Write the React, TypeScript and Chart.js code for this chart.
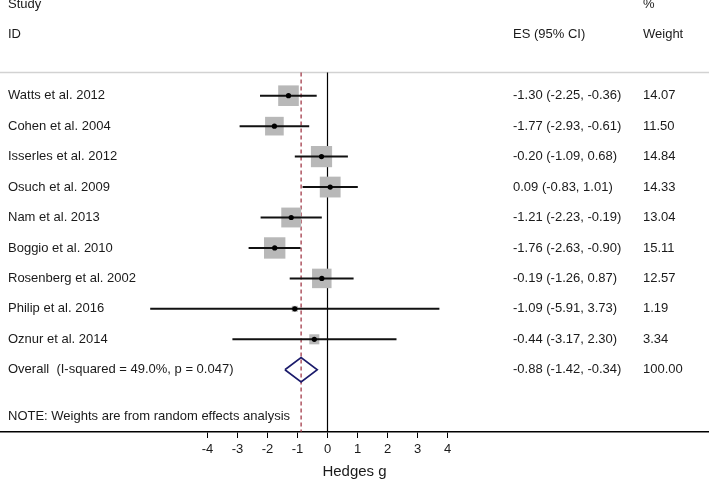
import React, { useEffect, useRef } from "react";
import { Chart, registerables } from "chart.js";

Chart.register(...registerables);

// ---- data ----
const studies = [
  "Watts et al. 2012",
  "Cohen et al. 2004",
  "Isserles et al. 2012",
  "Osuch et al. 2009",
  "Nam et al. 2013",
  "Boggio et al. 2010",
  "Rosenberg et al. 2002",
  "Philip et al. 2016",
  "Oznur et al. 2014",
];
const effectSizes = [-1.3, -1.77, -0.2, 0.09, -1.21, -1.76, -0.19, -1.09, -0.44];
const ciLower = [-2.25, -2.93, -1.09, -0.83, -2.23, -2.63, -1.26, -5.91, -3.17];
const ciUpper = [-0.36, -0.61, 0.68, 1.01, -0.19, -0.9, 0.87, 3.73, 2.3];
const weights = [14.07, 11.5, 14.84, 14.33, 13.04, 15.11, 12.57, 1.19, 3.34];
const overallLabel = "Overall  (I-squared = 49.0%, p = 0.047)";
const overallES = -0.88;
const overallLower = -1.42;
const overallUpper = -0.34;
const overallWeight = 100.0;
const xTicks = [-4, -3, -2, -1, 0, 1, 2, 3, 4];
const noteText = "NOTE: Weights are from random effects analysis";
const xTitle = "Hedges g";

// ---- layout (rows in y-units, x range) ----
const X_MIN = -10.917;
const X_MAX = 12.717;
const Y_MIN = -2.143;
const Y_MAX = 12.044;
const HEADER_LINE_ROW = 0.24;
const NOTE_ROW = 11.52;
const OVERALL_ROW = studies.length + 1;
const DIAMOND_HALF = 0.4;
const FONT = "13px 'Liberation Sans', Arial, Helvetica, sans-serif";
const TEXT_COLOR = "#1a1a1a";

const fmt = (v: number) => v.toFixed(2);
const ciText = (e: number, l: number, u: number) => `${fmt(e)} (${fmt(l)}, ${fmt(u)})`;

export default function App() {
  const canvasRef = useRef<HTMLCanvasElement | null>(null);

  useEffect(() => {
    const canvas = canvasRef.current;
    if (!canvas) return;
    const rows = studies.map((_, i) => i + 1);

    const textPlugin = {
      id: "forestText",
      afterDatasetsDraw(chart: any) {
        const { ctx } = chart;
        const y = chart.scales.y;
        ctx.save();
        ctx.font = FONT;
        ctx.fillStyle = TEXT_COLOR;
        ctx.textBaseline = "middle";
        ctx.textAlign = "left";
        const colLeft = 8;
        const colES = 513;
        const colW = 643;
        ctx.fillText("Study", colLeft, y.getPixelForValue(-2));
        ctx.fillText("ID", colLeft, y.getPixelForValue(-1));
        ctx.fillText("ES (95% CI)", colES, y.getPixelForValue(-1));
        ctx.fillText("%", colW, y.getPixelForValue(-2));
        ctx.fillText("Weight", colW, y.getPixelForValue(-1));
        studies.forEach((s, i) => {
          const py = y.getPixelForValue(rows[i]);
          ctx.fillText(s, colLeft, py);
          ctx.fillText(ciText(effectSizes[i], ciLower[i], ciUpper[i]), colES, py);
          ctx.fillText(fmt(weights[i]), colW, py);
        });
        const oy = y.getPixelForValue(OVERALL_ROW);
        ctx.fillText(overallLabel, colLeft, oy);
        ctx.fillText(ciText(overallES, overallLower, overallUpper), colES, oy);
        ctx.fillText(fmt(overallWeight), colW, oy);
        ctx.fillText(noteText, colLeft, y.getPixelForValue(NOTE_ROW));
        ctx.restore();
      },
    };

    const lineDs = (data: any[], color: string, width: number, order: number, dash: number[] = []) => ({
      type: "scatter" as const,
      data,
      showLine: true,
      borderColor: color,
      borderWidth: width,
      borderDash: dash,
      pointRadius: 0,
      pointHoverRadius: 0,
      fill: false,
      tension: 0,
      order,
      clip: false as any,
    });

    const datasets: any[] = [];
    // header separator
    datasets.push(lineDs([{ x: X_MIN, y: HEADER_LINE_ROW }, { x: X_MAX, y: HEADER_LINE_ROW }], "#d2d2d2", 1.5, 10));
    // null line
    datasets.push(lineDs([{ x: 0, y: HEADER_LINE_ROW }, { x: 0, y: Y_MAX }], "#000000", 1.2, 9));
    // overall dashed line
    datasets.push(lineDs([{ x: overallES, y: HEADER_LINE_ROW }, { x: overallES, y: Y_MAX }], "#9b2a3a", 1.2, 8, [4, 3]));
    // squares
    datasets.push({
      type: "scatter",
      data: rows.map((r, i) => ({ x: effectSizes[i], y: r })),
      pointStyle: "rect",
      pointRadius: weights.map((w) => (5.5 * Math.sqrt(w)) / Math.SQRT2),
      pointHoverRadius: weights.map((w) => (5.5 * Math.sqrt(w)) / Math.SQRT2),
      pointBackgroundColor: "#b8b8b8",
      pointBorderWidth: 0,
      borderWidth: 0,
      order: 7,
    });
    // CI lines
    rows.forEach((r, i) => {
      datasets.push(lineDs([{ x: ciLower[i], y: r }, { x: ciUpper[i], y: r }], "#111111", 2, 6));
    });
    // dots
    datasets.push({
      type: "scatter",
      data: rows.map((r, i) => ({ x: effectSizes[i], y: r })),
      pointStyle: "circle",
      pointRadius: 2.6,
      pointHoverRadius: 2.6,
      pointBackgroundColor: "#000000",
      pointBorderWidth: 0,
      borderWidth: 0,
      order: 1,
    });
    // diamond
    datasets.push(
      lineDs(
        [
          { x: overallLower, y: OVERALL_ROW },
          { x: overallES, y: OVERALL_ROW - DIAMOND_HALF },
          { x: overallUpper, y: OVERALL_ROW },
          { x: overallES, y: OVERALL_ROW + DIAMOND_HALF },
          { x: overallLower, y: OVERALL_ROW },
        ],
        "#1b1b6b",
        1.6,
        2
      )
    );

    const chart = new Chart(canvas, {
      type: "scatter",
      data: { datasets },
      plugins: [textPlugin],
      options: {
        animation: false,
        responsive: true,
        maintainAspectRatio: false,
        layout: { padding: 0, autoPadding: false },
        plugins: { legend: { display: false }, tooltip: { enabled: false } },
        events: [],
        scales: {
          x: {
            type: "linear",
            min: X_MIN,
            max: X_MAX,
            afterBuildTicks: (scale: any) => {
              scale.ticks = xTicks.map((v) => ({ value: v }));
            },
            afterFit: (scale: any) => {
              scale.height = 47;
            },
            ticks: {
              autoSkip: false,
              padding: 4,
              color: TEXT_COLOR,
              font: { family: "'Liberation Sans', Arial, sans-serif", size: 13 },
              callback: (v: any) => String(v),
            },
            grid: {
              display: true,
              drawOnChartArea: false,
              drawTicks: true,
              tickLength: 6,
              color: "#000000",
              lineWidth: 1,
            },
            border: { display: true, color: "#000000", width: 1.5 },
            title: {
              display: true,
              text: xTitle,
              color: TEXT_COLOR,
              font: { family: "'Liberation Sans', Arial, sans-serif", size: 15, lineHeight: 1 },
              padding: { top: 0, bottom: 0 },
            },
          },
          y: {
            type: "linear",
            display: false,
            reverse: true,
            min: Y_MIN,
            max: Y_MAX,
          },
        },
      },
    });
    return () => chart.destroy();
  }, []);

  return (
    <div style={{ position: "fixed", left: 0, top: 0, width: 709, height: 479, background: "#ffffff" }}>
      <canvas ref={canvasRef} />
    </div>
  );
}
